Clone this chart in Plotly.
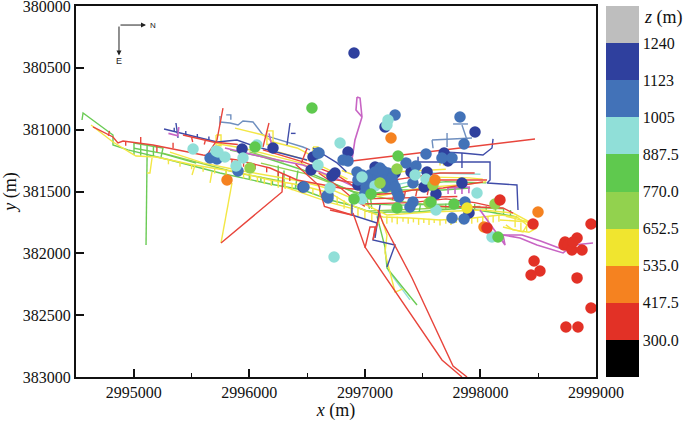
import plotly.graph_objects as go

# ---- monitoring-event classes (x, y) ----
darkblue_pts = [(2996906,380380),(2997174,380978),(2996854,381181),(2996551,381221),(2996534,381326),(2996715,381375),(2996741,381350),(2997088,381302),(2996940,381447),(2997261,381350),(2997399,381342),(2997538,381342),(2997512,381464),(2997615,381520),(2997685,381189),(2997719,381253),(2997840,381431),(2997953,381019),(2997901,381674),(2996464,381464),(2995937,381156),(2996205,381148)]
blue_pts = [(2997261,380881),(2997823,380898),(2997858,381116),(2996603,381189),(2996811,381245),(2996854,381253),(2997529,381197),(2997356,381269),(2997442,381294),(2997667,381229),(2997754,381229),(2996932,381342),(2996984,381407),(2997044,381367),(2997131,381310),(2997131,381383),(2997200,381350),(2997243,381431),(2997105,381423),(2997010,381464),(2997001,381512),(2997278,381504),(2997295,381544),(2997416,381431),(2997416,381585),(2997390,381625),(2997866,381585),(2997754,381714),(2997858,381722),(2996681,381528),(2996681,381553),(2996473,381464),(2995660,381229),(2995720,381237),(2995902,381334),(2996594,381189),(2996672,381536),
            (2996975,381367),(2997088,381342),(2997157,381334),(2997062,381407),(2997174,381407),(2997018,381391),(2997235,381391),(2997183,381464),(2997044,381464),(2996940,381407),(2997261,381464)]
cyan_pts = [(2996785,381108),(2997200,380922),(2997191,380962),(2996594,381286),(2996975,381383),(2996698,381472),(2997088,381455),(2996975,381561),(2997529,381399),(2997434,381367),(2997970,381512),(2997615,381650),(2998100,381868),(2996733,382030),(2995513,381156),(2995712,381172),(2995729,381181),(2995789,381221),(2995945,381229),(2995885,381294),(2996066,381124)]
green_pts = [(2996542,380825),(2997287,381213),(2997053,381520),(2996906,381561),(2997278,381633),(2997572,381585),(2997771,381601),(2998152,381868),(2996049,381140)]
lime_pts = [(2997278,381318),(2997589,381447),(2998126,381601),(2997555,381593),(2996006,381310),(2997131,381431)]
yellow_pts = [(2997884,381633)]
orange_pts = [(2997226,381067),(2997607,381407),(2998031,381787),(2998498,381666),(2995807,381407)]
red_pts = [(2998169,381569),(2998057,381795),(2998455,381763),(2998957,381763),(2998732,381908),(2998836,381876),(2998723,381933),(2998758,381933),(2998792,381973),(2998879,381973),(2998801,381908),(2998464,382062),(2998515,382143),(2998438,382175),(2998836,382199),(2998957,382442),(2998740,382596),(2998844,382596)]

# representative elevations of each class (m)
z_darkblue, z_blue, z_cyan, z_green, z_lime, z_yellow, z_orange, z_red = 1180, 1060, 950, 830, 710, 590, 480, 360

# ---- tunnel network polylines (x, y) ----
green_lines = [
    [(2994552,380922),(2994561,380865),(2994820,381043),(2994820,381124),(2994949,381164),(2995313,381245),(2995746,381350),(2996179,381439),(2996464,381488),(2996698,381569),(2996871,381609),(2997070,381674),(2997191,381666),(2997451,381666),(2997849,381633),(2998083,381666),(2998316,381706)],
    [(2995115,381221),(2995106,381933)],
    [(2995833,381164),(2996118,381221),(2996464,381326),(2996759,381447),(2996958,381528),(2997304,381488),(2997676,381488),(2997910,381472)],
    [(2995002,381108),(2995002,381205)],
    [(2995002,381108),(2995253,381148),(2995236,381221)],
    [(2995002,381150),(2995236,381190),(2995540,381270)],
    [(2997105,381700),(2997174,381949),(2997191,382118),(2997451,382418)],
    [(2995060,381120),(2995060,381210)],[(2995115,381130),(2995115,381215)],[(2995170,381140),(2995170,381220)],
    [(2996300,381330),(2996300,381430)],[(2996420,381330),(2996400,381470)],[(2996250,381290),(2996250,381430)],
    [(2996900,381400),(2997000,381500),(2997040,381640)],
    [(2997600,381620),(2997600,381480)],[(2998200,381640),(2998200,381690)],[(2998260,381650),(2998260,381695)],
    [(2997000,381600),(2997300,381610),(2997800,381600)],
    [(2997050,381560),(2997060,381640)],[(2997260,381600),(2997250,381660)],[(2997480,381610),(2997470,381665)],[(2997700,381600),(2997700,381640)],
    [(2997100,381520),(2997400,381450),(2997700,381420),(2998050,381430)],
    [(2995800,381360),(2995800,381320)],[(2995900,381380),(2995900,381340)],[(2996000,381400),(2996000,381360)],[(2996100,381420),(2996100,381380)],[(2996200,381440),(2996200,381400)],[(2996300,381460),(2996300,381420)],[(2996400,381480),(2996400,381440)],
    [(2997850,381635),(2997850,381590)],[(2997950,381645),(2997950,381600)],[(2998050,381660),(2998050,381620)],[(2998130,381670),(2998130,381625)],
]
lime_lines = [
    [(2996100,381270),(2996500,381360),(2996900,381500),(2997300,381580),(2997700,381620),(2998200,381640)],
    [(2995250,381190),(2995700,381300),(2995900,381350),(2996300,381420)],
    [(2996000,381180),(2996300,381260)],
    [(2997000,381660),(2997500,381640),(2998000,381620)],
]
yellow_lines = [
    [(2994630,380962),(2994820,381100),(2994976,381189),(2995019,381213),(2995192,381221),(2995521,381286),(2995893,381342),(2996179,381407),(2996438,381447),(2996698,381512),(2996871,381609),(2997157,381706),(2997390,381714),(2997650,381730),(2997936,381714),(2998169,381690),(2998316,381706),(2998403,381771),(2998368,381827),(2998195,381787)],
    [(2995313,381181),(2995599,381269),(2995893,381326),(2996179,381375),(2996438,381415),(2996700,381480),(2996900,381560),(2997191,381690),(2997564,381666),(2998022,381650),(2998282,381674),(2998429,381747),(2998169,381730)],
    [(2998220,381700),(2998390,381740),(2998489,381795),(2998420,381830),(2998280,381810),(2998220,381770)],
    [(2995158,381229),(2995140,381350),(2995115,381350)],
    [(2995850,381431),(2995755,381916)],
    [(2995530,381286),(2995504,381367)],
    [(2995677,381342),(2995660,381431)],
    [(2997148,381730),(2997191,381852),(2997174,381997),(2997261,382313),(2997330,382288)],
    [(2995876,380987),(2996023,381019),(2996118,381043),(2996205,381100),(2996413,381148),(2996560,381220)],
    [(2995712,381043),(2995755,381043),(2995755,381130),(2995712,381130),(2995712,381043)],
    [(2996152,381010),(2996205,381010),(2996205,381120),(2996152,381120),(2996152,381010)],
    [(2996551,381140),(2996594,381140),(2996586,381250),(2996551,381250),(2996551,381140)],
    [(2996800,381330),(2997000,381400),(2997300,381340),(2997700,381320)],
    [(2997400,381380),(2997900,381390),(2998020,381400)],
    [(2997650,381180),(2997650,381290)],[(2997680,381180),(2997680,381290)],
    [(2996250,381180),(2996550,381260),(2996850,381400)],
    [(2996300,381460),(2996700,381590),(2996900,381640)],
    [(2995700,381110),(2995950,381150),(2996200,381210),(2996450,381270),(2996700,381390)],
    [(2997100,381540),(2997500,381470),(2997900,381440),(2998050,381420)],
]
# short spurs: x, y start, y end
yellow_spurs = [(2997190,381700,381760),(2997235,381710,381750),(2997280,381705,381765),(2997330,381710,381745),(2997375,381712,381760),(2997420,381715,381750),(2997465,381715,381770),(2997510,381720,381755),(2997555,381720,381770),(2997600,381725,381755),(2997650,381725,381775),(2997700,381725,381760),(2997745,381720,381770),(2997790,381720,381755),(2997835,381715,381765),(2997880,381715,381750),(2997925,381710,381760),(2997975,381710,381750),(2998020,381705,381755),(2998065,381700,381745),(2998110,381695,381750),(2998160,381690,381745),
    (2995950,381350,381395),(2996010,381365,381410),(2996070,381380,381425),(2996130,381395,381440),(2996190,381410,381455),(2996250,381420,381470),(2996310,381430,381480),(2996370,381435,381490),(2996430,381445,381495),(2996490,381460,381510),(2996550,381475,381525),(2996610,381490,381540),(2995300,381240,381280),(2995400,381260,381300),(2995500,381280,381320),(2995600,381300,381340),(2995700,381315,381355),(2995800,381330,381370),
    (2996700,381520,381580),(2996760,381540,381610),(2996820,381570,381640),(2996880,381610,381680),(2996940,381640,381700),(2997000,381650,381720),(2997060,381670,381740),(2997120,381690,381760),
    (2998300,381720,381790),(2998350,381750,381815),(2998400,381770,381825)]
red_spurs = [(2995650,381210,381250),(2995750,381225,381265),(2995850,381240,381285),(2995950,381260,381300),(2996050,381280,381320),(2996150,381305,381345),(2996250,381335,381375),(2996350,381375,381415)]
blue_spurs = [(2995350,381015,380985),(2995450,381040,381010),(2995550,381065,381035),(2995650,381085,381055)]
magenta_spurs = [(2997720,381472,381520),(2997780,381470,381520),(2997840,381468,381520),(2997900,381465,381515)]
red_lines = [
    [(2994647,380978),(2994820,381059),(2994863,381108),(2994907,381092),(2995166,381124),(2995478,381181),(2995599,381205),(2995893,381245),(2996179,381310),(2996413,381407),(2996785,381472),(2997018,381488)],
    [(2995426,381043),(2995686,381100),(2995900,381120)],
    [(2996118,381164),(2996265,381205),(2996464,381261),(2996759,381367),(2997018,381528),(2997278,381512),(2997416,381488),(2997676,381472),(2998022,381423)],
    [(2997650,381407),(2998057,381407)],
    [(2996698,381400),(2997000,381440),(2997300,381400),(2997650,381350),(2997950,381350)],
    [(2997970,381625),(2998195,381633),(2998282,381674)],
    [(2997600,381620),(2997970,381625)],
    [(2995772,380825),(2995720,381084),(2995634,381205)],
    [(2996170,380946),(2996118,381140)],
    [(2995755,381916),(2996283,381504),(2996291,381350)],
    [(2996897,381674),(2997001,381949),(2997667,382862),(2997840,383000)],
    [(2997113,381650),(2997157,381755),(2997408,382199),(2997763,382911),(2997884,383000)],
    [(2997001,381957),(2997044,381787),(2997088,381787),(2997070,381892),(2997131,381674)],
    [(2996888,381253),(2998472,381075)],
    [(2996400,381280),(2996600,381450),(2996650,381620),(2996888,381690)],
    [(2996698,381650),(2996888,381690)],
    [(2996450,381270),(2996500,381150)],
    [(2994780,381050),(2994790,381010)],[(2994930,381095),(2994930,381130)],[(2995060,381110),(2995060,381060)],[(2995200,381130),(2995200,381180)],[(2995340,381150),(2995340,381105)],[(2995500,381180),(2995500,381140)],
    [(2995500,381060),(2995510,381100)],[(2995620,381085),(2995610,381120)],
    [(2996600,381350),(2996800,381480),(2996900,381560),(2997000,381620)],
    [(2997000,381560),(2997400,381550),(2997800,381540)],
    [(2997000,381600),(2997400,381590),(2997700,381560),(2997950,381590),(2998100,381620)],
    [(2997250,381520),(2997240,381570)],[(2997350,381500),(2997340,381550)],[(2997450,381490),(2997440,381540)],[(2997550,381480),(2997540,381530)],
]
darkblue_lines = [
    [(2995262,380995),(2995538,381059),(2995720,381100),(2995893,381084),(2996066,381140),(2996265,381189),(2996499,381245)],
    [(2996551,381148),(2996759,381269),(2996840,381340)],
    [(2995365,380946),(2995383,381067)],
    [(2996352,380946),(2996326,381124)],
    [(2996888,381593),(2996888,381690),(2997105,381755),(2997070,381892),(2997261,381933),(2997191,382110)],
    [(2997131,381609),(2997088,381876)],
    [(2998109,381075),(2998100,381148),(2998022,381205),(2997840,381189),(2997676,381181)],
    [(2997460,381261),(2998083,381261),(2998083,381407),(2998057,381431),(2998316,381447),(2998325,381650)],
    [(2997840,381189),(2997840,381310)],
    [(2997460,381220),(2997460,381300)],
    [(2996360,381030),(2996400,381030)],
]
blue_lines = [
    [(2995746,380938),(2995833,380946),(2995902,380962),(2995945,380930),(2996032,380938),(2996118,381043),(2996205,381067),(2996464,381140),(2996525,381164)],
    [(2997581,381084),(2997927,381067)],
    [(2997581,381084),(2997590,381150)],
    [(2997763,380954),(2997892,380954)],
    [(2997840,380962),(2997884,381084)],
    [(2997711,381027),(2997711,381140)],
    [(2995746,380890),(2995746,380960)],
    [(2995840,380920),(2995840,380880),(2995800,380880)],
]
cyan_lines = [
    [(2997200,382135),(2997390,382377)],
    [(2997400,381345),(2998000,381360)],
    [(2997000,381500),(2997400,381420)],
]
magenta_lines = [
    [(2995789,381148),(2996118,381221),(2996464,381286),(2996785,381407),(2997062,381528)],
    [(2996932,380736),(2996923,380841),(2996975,380898),(2996958,380744),(2996932,380736)],
    [(2996975,380898),(2996914,381084),(2996888,381245)],
    [(2997711,381472),(2997910,381464)],
    [(2997996,381650),(2998143,381836),(2998213,381933),(2998195,381852),(2998342,381876),(2998489,381933),(2998715,381997),(2998801,381933),(2998974,381916)],
    [(2998195,381852),(2998360,381852),(2998520,381900),(2998715,381970)],
    [(2995300,381030),(2995380,381050),(2995390,380980)],
    [(2996560,381170),(2996580,381240)],[(2996170,381030),(2996190,381110)],
]

# ---- colour bar ----
z_tick_vals = [300, 417.5, 535, 652.5, 770, 887.5, 1005, 1123, 1240]
z_tick_text = ["300.0", "417.5", "535.0", "652.5", "770.0", "887.5", "1005", "1123", "1240"]
z_edges = [182.5, 300, 417.5, 535, 652.5, 770, 887.5, 1005, 1123, 1240, 1357.5]
z_colors = ["#000000", "#E23126", "#F58220", "#F0E52F", "#92D24E", "#5FC94E", "#90DFD8", "#4272B8", "#2F409E", "#BEBEBE"]

# ---- axes ----
x_ticks = [2995000, 2996000, 2997000, 2998000, 2999000]
y_ticks = [380000, 380500, 381000, 381500, 382000, 382500, 383000]

fig = go.Figure()

def spurs(items):
    return [[(s[0], s[1]), (s[0], s[2])] for s in items]

def add_lines(groups, color, width=1.4):
    xs, ys = [], []
    for line in groups:
        xs += [p[0] for p in line] + [None]
        ys += [p[1] for p in line] + [None]
    fig.add_trace(go.Scatter(x=xs, y=ys, mode="lines", line=dict(color=color, width=width), showlegend=False, hoverinfo="skip"))

add_lines(blue_lines, "#6F8FBF")
add_lines(cyan_lines, "#90DFD8")
add_lines(lime_lines, "#92D24E")
add_lines(green_lines, "#6BCB55")
add_lines(yellow_lines + spurs(yellow_spurs), "#F3E745")
add_lines(darkblue_lines + spurs(blue_spurs), "#3F4CA8")
add_lines(magenta_lines + spurs(magenta_spurs), "#C865C4", 1.6)
add_lines(red_lines + spurs(red_spurs), "#E8453C")

def add_points(pts, z):
    fig.add_trace(go.Scatter(x=[p[0] for p in pts], y=[p[1] for p in pts], mode="markers",
                             marker=dict(size=11.5, color=[z] * len(pts), coloraxis="coloraxis", line=dict(width=0)),
                             showlegend=False))

for pts, z in [(darkblue_pts, z_darkblue), (blue_pts, z_blue), (cyan_pts, z_cyan), (lime_pts, z_lime),
               (green_pts, z_green), (yellow_pts, z_yellow), (orange_pts, z_orange), (red_pts, z_red)]:
    add_points(pts, z)

lo, hi = z_edges[0], z_edges[-1]
scale = []
for i, c in enumerate(z_colors):
    scale.append([(z_edges[i] - lo) / (hi - lo), c])
    scale.append([(z_edges[i + 1] - lo) / (hi - lo), c])

FONT = "Liberation Serif"
fig.update_layout(
    width=685, height=421, autosize=False,
    margin=dict(l=76, r=89, t=6, b=44, autoexpand=False),
    paper_bgcolor="white", plot_bgcolor="white",
    font=dict(family=FONT, size=16, color="#111111"),
    showlegend=False,
    coloraxis=dict(
        cmin=lo, cmax=hi, colorscale=scale,
        colorbar=dict(x=1.0192, xanchor="left", y=0, yanchor="bottom", len=1.0, lenmode="fraction",
                      thickness=33, thicknessmode="pixels", xpad=0, ypad=0, outlinewidth=0,
                      tickmode="array", tickvals=z_tick_vals, ticktext=z_tick_text,
                      ticks="", tickfont=dict(family=FONT, size=16, color="#111111")),
    ),
    xaxis=dict(range=[2994500, 2999000], tickmode="array", tickvals=x_ticks, ticks="inside", ticklen=8, tickwidth=1.5,
               minor=dict(tickmode="array", tickvals=[2995500, 2996500, 2997500, 2998500], ticks="inside", ticklen=4, tickwidth=1.2, tickcolor="#111111"),
               tickformat="d", showgrid=False, zeroline=False, showline=True, mirror=True, linecolor="#111111", linewidth=2,
               tickcolor="#111111", ticklabeloverflow="allow",
               title=dict(text="<i>x</i> (m)", font=dict(size=18), standoff=3)),
    yaxis=dict(range=[383000, 380000], tickmode="array", tickvals=y_ticks, ticks="inside", ticklen=8, tickwidth=1.5,
               tickformat="d", showgrid=False, zeroline=False, showline=True, mirror=True, linecolor="#111111", linewidth=2,
               tickcolor="#111111", ticklabeloverflow="allow",
               title=dict(text="<i>y</i> (m)", font=dict(size=18), standoff=6)),
    annotations=[
        dict(x=2995106, y=380154, ax=2994872, ay=380154, axref="x", ayref="y", xref="x", yref="y", text="", showarrow=True,
             arrowhead=2, arrowsize=1, arrowwidth=1, arrowcolor="#222222"),
        dict(x=2994872, y=380400, ax=2994872, ay=380154, axref="x", ayref="y", xref="x", yref="y", text="", showarrow=True,
             arrowhead=2, arrowsize=1, arrowwidth=1, arrowcolor="#222222"),
        dict(x=2995120, y=380154, xref="x", yref="y", text="N", showarrow=False, xanchor="left",
             font=dict(family="Liberation Sans", size=8, color="#222222")),
        dict(x=2994872, y=380445, xref="x", yref="y", text="E", showarrow=False,
             font=dict(family="Liberation Sans", size=9, color="#222222")),
        dict(xref="paper", yref="paper", x=1.0885, y=0.9677, xanchor="left", yanchor="middle", text="<i>z</i> (m)",
             showarrow=False, font=dict(family=FONT, size=18, color="#111111")),
    ],
)

fig.write_html("out.html", config={"displayModeBar": False},
               post_script="document.body.style.margin='0';document.documentElement.style.overflow='hidden';")
